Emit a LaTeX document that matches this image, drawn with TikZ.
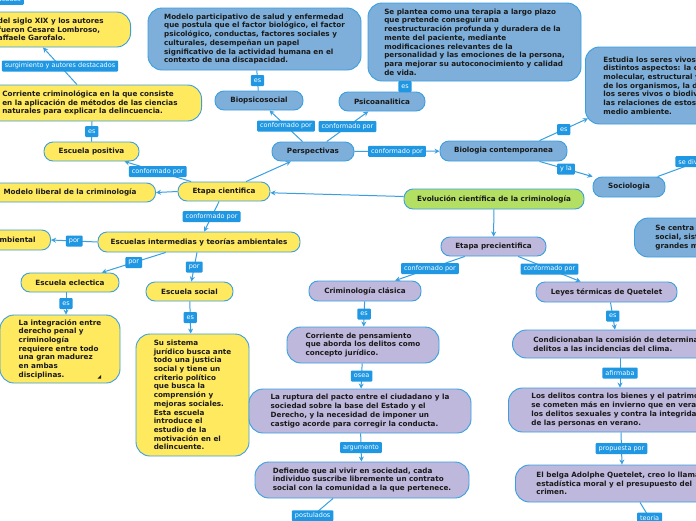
\documentclass[tikz,border=0pt]{standalone}
\usepackage{fontspec}
\usepackage{tikz}
\usetikzlibrary{calc,arrows.meta}
\newfontfamily\mapfont{DejaVu Sans}
\newcommand{\mapnodefont}{\mapfont\bfseries\fontsize{7.2}{8.7}\selectfont}
\newcommand{\maplblfont}{\mapfont\fontsize{6.5}{7}\selectfont}
\definecolor{yelc}{HTML}{FFE95F}
\definecolor{bluc}{HTML}{7DAFDA}
\definecolor{purc}{HTML}{BDB8DC}
\definecolor{grnc}{HTML}{B3DF63}
\definecolor{linec}{HTML}{3A9FE0}
\definecolor{lblc}{HTML}{1F97E3}
\definecolor{txtc}{HTML}{1A1A1A}
\tikzstyle{base}  = [draw=linec, line width=0.9pt, font=\mapnodefont, text=txtc, align=left, inner sep=2pt, rounded corners=9pt]
\tikzstyle{ynode} = [base, fill=yelc]
\tikzstyle{bnode} = [base, fill=bluc]
\tikzstyle{pnode} = [base, fill=purc]
\tikzstyle{gnode} = [base, fill=grnc]
\tikzstyle{conn}  = [draw=linec, line width=1pt]
\tikzstyle{arr}   = [conn, -{Stealth[length=5pt,width=5pt]}]
\begin{document}
\begin{tikzpicture}[x=1pt, y=-1pt,
		big/.style={rounded corners=14pt},
		lbl/.style={fill=lblc, text=white, font=\maplblfont, inner xsep=3pt, inner ysep=1pt, minimum height=11pt, rounded corners=1pt}]

	\useasboundingbox (0,0) rectangle (696,520);
	\clip (0,0) rectangle (696,520);
	\fill[white] (0,0) rectangle (696,520);

	% etapa cientifica
	\node[ynode, big, anchor=east, inner xsep=27pt, minimum height=35pt] (siglo) at (131,29.5) {del siglo XIX y los autores\\fueron Cesare Lombroso,\\affaele Garofalo.};
	\node[lbl, anchor=south east] (toplbl) at (24,5) {destacados};
	\node[ynode, big, anchor=east, inner xsep=24pt, minimum height=36pt] (corrcrim) at (202,103) {Corriente criminológica en la que consiste\\en la aplicación de métodos de las ciencias\\naturales para explicar la delincuencia.};
	\node[ynode, minimum width=95pt, minimum height=19pt] (escpos) at (91.5,151.5) {Escuela positiva};
	\node[ynode, anchor=east, inner xsep=19pt, minimum height=19pt] (modlib) at (156,192.5) {Modelo liberal de la criminología};
	\node[ynode, minimum width=92pt, minimum height=19pt] (etapacien) at (224,191.5) {Etapa cientifica};
	\node[ynode, minimum width=202pt, minimum height=20pt] (escint) at (199,242) {Escuelas intermedias y teorías ambientales};
	\node[ynode, anchor=east, inner xsep=15pt, minimum height=20pt] (ambient) at (51,240) {ambiental};
	\node[ynode, minimum width=98pt, minimum height=19pt] (eclec) at (70,282.5) {Escuela eclectica};
	\node[ynode, big, minimum width=120pt, minimum height=68pt] (integ) at (60,349) {La integración entre\\derecho penal y\\criminología\\requiere entre todo\\una gran madurez\\en ambas\\disciplinas.};
	\node[ynode, minimum width=87pt, minimum height=19pt] (escsoc) at (189.5,291.5) {Escuela social};
	\node[ynode, big, minimum width=113pt, minimum height=122pt] (sussis) at (192.5,395) {Su sistema\\jurídico busca ante\\todo una justicia\\social y tiene un\\criterio político\\que busca la\\comprensión y\\mejoras sociales.\\Esta escuela\\introduce el\\estudio de la\\motivación en el\\delincuente.};
	\fill[txtc] (97.5,378.5) -- (101,378.5) -- (101,375) -- cycle;

	% perspectivas
	\node[bnode, minimum width=82pt, minimum height=19pt] (persp) at (313,151.5) {Perspectivas};
	\node[bnode, minimum width=88pt, minimum height=19pt] (biopsi) at (259,100.5) {Biopsicosocial};
	\node[bnode, big, minimum width=213pt, minimum height=62pt] (modpart) at (254.5,39) {Modelo participativo de salud y enfermedad\\que postula que el factor biológico, el factor\\psicológico, conductas, factores sociales y\\culturales, desempeñan un papel\\significativo de la actividad humana en el\\contexto de una discapacidad.};
	\node[bnode, minimum width=86pt, minimum height=19pt] (psico) at (382,101.5) {Psicoanalitica};
	\node[bnode, big, minimum width=213pt, minimum height=78pt] (terapia) at (474.5,42) {Se plantea como una terapia a largo plazo\\que pretende conseguir una\\reestructuración profunda y duradera de la\\mente del paciente, mediante\\modificaciones relevantes de la\\personalidad y las emociones de la persona,\\para mejorar su autoconocimiento y calidad\\de vida.};
	\node[bnode, minimum width=127pt, minimum height=20pt] (biocont) at (503.5,151) {Biologia contemporanea};
	\node[bnode, big, anchor=west, inner xsep=18pt, minimum height=77pt] (seresv) at (585,85.5) {Estudia los seres vivos desde\\distintos aspectos: la organización\\molecular, estructural y fisiológica\\de los organismos, la diversidad de\\los seres vivos o biodiversidad y\\las relaciones de estos con el\\medio ambiente.};
	\node[bnode, minimum width=72pt, minimum height=20pt] (socio) at (629,187) {Sociologia};
	\node[bnode, big, anchor=west, inner xsep=21pt, minimum height=39pt] (centra) at (634,237.5) {Se centra en el\\social, sistemas y\\grandes masas};

	% etapa precientifica
	\node[gnode, minimum width=180pt, minimum height=20pt] (evol) at (494,199) {Evolución científica de la criminología};
	\node[pnode, minimum width=105pt, minimum height=19pt] (etapre) at (493.5,246.5) {Etapa precientifica};
	\node[pnode, minimum width=112pt, minimum height=20pt] (crimcl) at (365,291) {Criminología clásica};
	\node[pnode, big, minimum width=152pt, minimum height=36pt] (corrpen) at (363,345) {Corriente de pensamiento\\que aborda los delitos como\\concepto jurídico.};
	\node[pnode, big, minimum width=222pt, minimum height=44pt] (ruptura) at (360,411) {La ruptura del pacto entre el ciudadano y la\\sociedad sobre la base del Estado y el\\Derecho, y la necesidad de imponer un\\castigo acorde para corregir la conducta.};
	\node[pnode, big, minimum width=214pt, minimum height=36pt] (defiende) at (362,480) {Defiende que al vivir en sociedad, cada\\individuo suscribe libremente un contrato\\social con la comunidad a la que pertenece.};
	\node[pnode, minimum width=141pt, minimum height=20pt] (leyes) at (606.5,292) {Leyes térmicas de Quetelet};
	\node[pnode, big, anchor=west, inner xsep=21pt, minimum height=28pt] (condic) at (512,344) {Condicionaban la comisión de determinados\\delitos a las incidencias del clima.};
	\node[pnode, big, anchor=west, inner xsep=23pt, minimum height=44pt] (losdel) at (508,410) {Los delitos contra los bienes y el patrimonio\\se cometen más en invierno que en verano y\\los delitos sexuales y contra la integridad\\de las personas en verano.};
	\node[pnode, big, anchor=west, inner xsep=21pt, minimum height=37pt] (belga) at (515,483.5) {El belga Adolphe Quetelet, creo lo llamado\\estadística moral y el presupuesto del\\crimen.};

	\coordinate (divend) at (730,150);
	\coordinate (postend) at (296,530);
	\coordinate (teoend) at (660,535);

	\draw[arr] ($(corrcrim.north east)+(-125,0)$) -- node[lbl]{surgimiento y autores destacados} ($(siglo.south east)+(-88,0)$);
	\draw[conn] (escpos.north) -- node[lbl]{es} ($(corrcrim.south east)+(-110,0)$);
	\draw[arr] (etapacien) -- node[lbl]{conformado por} (escpos);
	\draw[arr] (etapacien.west) -- (modlib.east);
	\draw[arr] (etapacien) -- (persp);
	\draw[arr] (etapacien) -- node[lbl]{conformado por} (escint);
	\draw[arr] (escint.west) -- node[lbl]{por} (ambient.east);
	\draw[arr] (escint) -- node[lbl]{por} (eclec);
	\draw[arr] (escint) -- node[lbl]{por} (escsoc);
	\draw[arr] ($(eclec.south)+(-4,0)$) -- node[lbl]{es} ($(integ.north)+(6,0)$);
	\draw[arr] (escsoc) -- node[lbl]{es} (sussis);

	\draw[arr] (persp) -- node[lbl]{conformado por} (biopsi);
	\draw[conn] (biopsi) -- node[lbl]{es} (modpart);
	\draw[arr] (persp) -- node[lbl]{conformado por} (psico);
	\draw[conn] ($(psico.north)+(23,0)$) -- node[lbl]{es} ($(terapia.south)+(-69.5,0)$);
	\draw[arr] (persp) -- node[lbl]{conformado por} (biocont);
	\draw[arr] ($(biocont.north)+(36,0)$) -- node[lbl]{es} ($(seresv.south west)+(3,-6)$);
	\draw[arr] ($(biocont.south)+(36,0)$) -- node[lbl]{y la} (socio);
	\draw[conn] (socio) -- node[lbl, pos=0.56]{se divide en} (divend);

	\draw[arr] (evol) -- (etapacien);
	\draw[arr] (evol) -- (etapre);
	\draw[arr] (etapre) -- node[lbl]{conformado por} (crimcl);
	\draw[arr] (etapre) -- node[lbl]{conformado por} (leyes);
	\draw[arr] (crimcl) -- node[lbl]{es} (corrpen);
	\draw[arr] (corrpen) -- node[lbl]{osea} (ruptura);
	\draw[arr] (ruptura) -- node[lbl]{argumento} (defiende);
	\draw[conn] ($(defiende.south)+(-29,0)$) -- node[lbl, pos=0.55]{postulados} (postend);
	\draw[arr] ($(leyes.south)+(4,0)$) -- node[lbl]{es} ($(condic.north west)+(103,0)$);
	\draw[arr] ($(condic.south west)+(108,0)$) -- node[lbl]{afirmaba} ($(losdel.north west)+(112,0)$);
	\draw[arr] ($(losdel.south west)+(113,0)$) -- node[lbl]{propuesta por} ($(belga.north west)+(107,0)$);
	\draw[conn] ($(belga.south west)+(125,0)$) -- node[lbl, pos=0.48]{teoria} (teoend);
\end{tikzpicture}
\end{document}
